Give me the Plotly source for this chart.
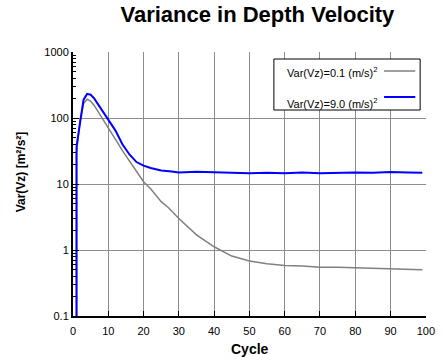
import plotly.graph_objects as go

# Data
cycles_low = [1, 1, 2, 3, 4, 5, 6, 7, 8, 9, 10, 12, 14, 16, 18, 20, 22, 25, 27, 30,
              35, 40, 45, 50, 55, 60, 65, 70, 75, 80, 85, 90, 95, 99]
var_low = [0.01, 30, 90, 165, 192, 180, 155, 128, 105, 88, 72, 48, 32, 22, 15, 10.8, 8.5,
           5.4, 4.4, 3.0, 1.7, 1.12, 0.81, 0.68, 0.62, 0.58, 0.57, 0.55, 0.55, 0.54,
           0.53, 0.515, 0.51, 0.50]

cycles_high = [1, 1, 2, 3, 4, 5, 6, 7, 8, 9, 10, 12, 14, 15, 16, 18, 20, 22, 25, 28, 30,
               35, 40, 45, 50, 55, 60, 65, 70, 75, 80, 85, 90, 95, 99]
var_high = [0.01, 37, 85, 190, 232, 225, 198, 165, 140, 115, 95, 65, 40, 33, 28, 21.5, 19,
            17.5, 16, 15.5, 15, 15.3, 15.2, 14.8, 14.6, 14.8, 14.5, 14.9, 14.6, 14.8,
            15.0, 14.8, 15.2, 14.9, 14.8]

legend_labels = ["Var(Vz)=0.1 (m/s)<sup>2</sup>", "Var(Vz)=9.0 (m/s)<sup>2</sup>"]
colors = ["#808080", "#0000ff"]

x_ticks = [0, 10, 20, 30, 40, 50, 60, 70, 80, 90, 100]
y_tickvals = [0.1, 1, 10, 100, 1000]
y_ticktext = ["0.1", "1", "10", "100", "1000"]

FONT = "Arial, 'Liberation Sans', sans-serif"

# plot area in pixels (for paper-coordinate placement of legend/titles)
L, R, T, B = 73, 435, 52, 316
PW, PH = R - L, B - T


def px_x(p):
    return (p - L) / PW


def px_y(p):
    return (B - p) / PH


fig = go.Figure()
fig.add_trace(go.Scatter(x=cycles_low, y=var_low, mode="lines",
                         line=dict(color=colors[0], width=1.5), name=legend_labels[0]))
fig.add_trace(go.Scatter(x=cycles_high, y=var_high, mode="lines",
                         line=dict(color=colors[1], width=2), name=legend_labels[1]))

fig.update_layout(
    width=443, height=360,
    margin=dict(l=L, r=443 - R, t=T, b=360 - B),
    paper_bgcolor="white", plot_bgcolor="white",
    showlegend=False,
    font=dict(family=FONT, size=11, color="black"),
    title=dict(text="<b>Variance in Depth Velocity</b>", x=0.581, xanchor="center",
               y=0.961, yanchor="middle", font=dict(size=22, family=FONT, color="black")),
)

fig.update_xaxes(
    range=[0, 100.05], tickvals=x_ticks, showgrid=True, gridcolor="#8c8c8c", gridwidth=1,
    showline=True, linecolor="black", linewidth=2, ticks="inside", ticklen=5,
    tickcolor="black", tickfont=dict(size=11, family=FONT), zeroline=False,
    ticklabeloverflow="allow", ticklabelstandoff=4,
)
fig.update_yaxes(
    type="log", range=[-1, 3], tickvals=y_tickvals, ticktext=y_ticktext,
    showgrid=True, gridcolor="#8c8c8c", gridwidth=1,
    showline=True, linecolor="black", linewidth=2, ticks="inside", ticklen=6,
    tickcolor="black", tickfont=dict(size=11, family=FONT), zeroline=False,
    minor=dict(ticks="inside", ticklen=3, tickcolor="black", dtick="D1", showgrid=False),
)

# Axis titles
fig.add_annotation(xref="paper", yref="paper", x=px_x(255), y=px_y(349),
                   text="<b>Cycle</b>", showarrow=False, xanchor="center", yanchor="middle",
                   font=dict(size=14, family=FONT, color="black"))
fig.add_annotation(xref="paper", yref="paper", x=px_x(20), y=px_y(172),
                   text="<b>Var(Vz) [m²/s²]</b>", showarrow=False, textangle=-90,
                   xanchor="center", yanchor="middle",
                   font=dict(size=12, family=FONT, color="black"))

# Legend drawn manually (text left, line sample right, as in the reference)
fig.add_shape(type="rect", xref="paper", yref="paper",
              x0=px_x(279), x1=px_x(429), y0=px_y(110), y1=px_y(59),
              line=dict(color="black", width=1), fillcolor="white", layer="above")
for i, (lab, col) in enumerate(zip(legend_labels, colors)):
    ypix = [71, 97][i]
    typix = [72, 103][i]
    fig.add_annotation(xref="paper", yref="paper", x=px_x(290), y=px_y(typix),
                       text=lab, showarrow=False, xanchor="left", yanchor="middle",
                       font=dict(size=11, family=FONT, color="black"))
    fig.add_shape(type="line", xref="paper", yref="paper",
                  x0=px_x(392), x1=px_x(424), y0=px_y(ypix), y1=px_y(ypix),
                  line=dict(color=col, width=[1.5, 2][i]), layer="above")

fig.write_html("out.html")
